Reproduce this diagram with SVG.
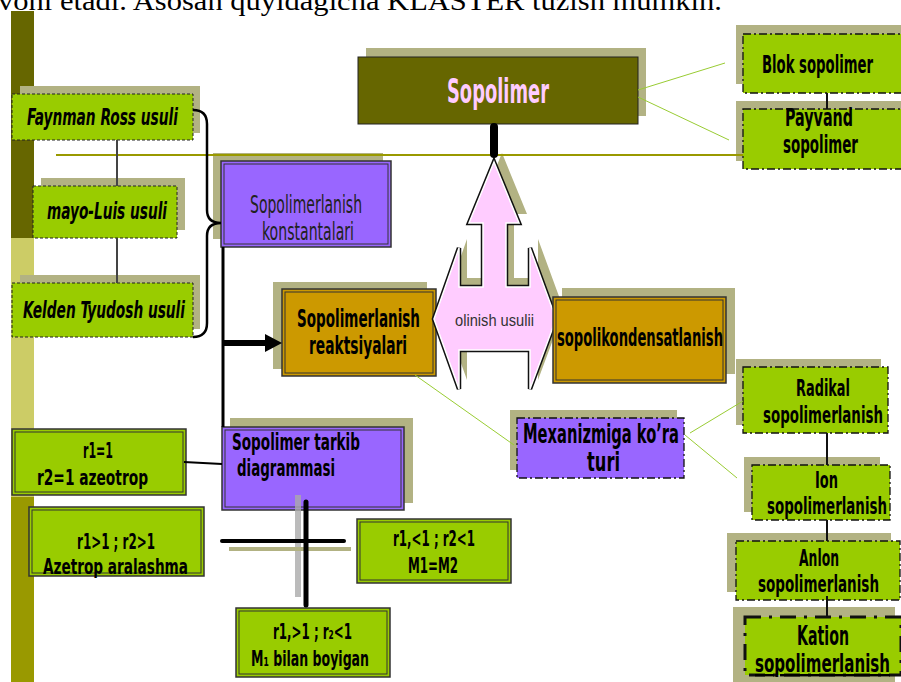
<svg xmlns="http://www.w3.org/2000/svg" width="901" height="682" viewBox="0 0 901 682">
<style>
.t{font-family:"Liberation Sans Narrow","DejaVu Sans Condensed","Liberation Sans",sans-serif;font-weight:bold;fill:#000;}
.it{font-style:italic;}
.rg{font-weight:normal;fill:#222;}
.sh{fill:#b2b283;}
.gr{fill:#99cc00;}
.pu{fill:#9966ff;}
.or{fill:#cc9900;}
.dbl{stroke:#333;stroke-width:1.5;}
.inn{fill:none;stroke:#333;stroke-width:1;}
.dash{stroke:#222;stroke-width:1;stroke-dasharray:3,2;}
.dd{stroke:#111;stroke-width:1.3;stroke-dasharray:8,3,2,3;}
.gl{stroke:#99cc33;stroke-width:1;fill:none;}
</style>
<rect width="901" height="682" fill="#fff"/>
<rect x="11" y="11" width="23" height="228" fill="#666600"/>
<rect x="11" y="238" width="23" height="260" fill="#cccc66"/>
<rect x="11" y="497" width="23" height="185" fill="#999900"/>
<text x="-2" y="10" font-family="Liberation Serif,serif" font-size="28" textLength="724" lengthAdjust="spacingAndGlyphs">voni etadi. Asosan quyidagicha KLASTER tuzish mumkin.</text>

<g id="sopolimer">
<rect class="sh" x="366" y="48" width="280" height="68"/>
<rect x="358" y="57" width="280" height="67" fill="#666600" stroke="#222" stroke-width="1"/>
<text class="t" x="447" y="103" font-size="34" textLength="102" lengthAdjust="spacingAndGlyphs" style="fill:#ffccff">Sopolimer</text>
</g>

<g id="faynman">
<rect class="sh" x="20" y="86" width="180" height="47"/>
<rect class="gr dash" x="12" y="94" width="181" height="46"/>
<text class="t it" x="27" y="125" font-size="23" textLength="151" lengthAdjust="spacingAndGlyphs">Faynman Ross usuli</text>
</g>
<g id="mayo">
<rect class="sh" x="41" y="178" width="144" height="52"/>
<rect class="gr dash" x="33" y="186" width="144" height="52"/>
<text class="t it" x="47" y="219" font-size="23" textLength="120" lengthAdjust="spacingAndGlyphs">mayo-Luis usuli</text>
</g>
<g id="kelden">
<rect class="sh" x="20" y="275" width="180" height="54"/>
<rect class="gr dash" x="12" y="283" width="181" height="54"/>
<text class="t it" x="23" y="318" font-size="23" textLength="162" lengthAdjust="spacingAndGlyphs">Kelden Tyudosh usuli</text>
</g>

<g id="konstantalari">
<rect class="sh" x="213" y="153" width="170" height="86"/>
<rect class="pu dbl" x="221" y="161" width="170" height="86"/>
<rect class="inn" x="224" y="164" width="164" height="80"/>
<text class="t rg" x="250" y="213" font-size="24" textLength="112" lengthAdjust="spacingAndGlyphs">Sopolimerlanish</text>
<text class="t rg" x="262" y="240" font-size="24" textLength="92" lengthAdjust="spacingAndGlyphs">konstantalari</text>
</g>

<g id="reaktsiyalari">
<rect class="sh" x="273" y="282" width="154" height="87"/>
<rect class="or dbl" x="282" y="289" width="154" height="87"/>
<rect class="inn" x="285" y="292" width="148" height="81"/>
<text class="t" x="297" y="327" font-size="25" textLength="123" lengthAdjust="spacingAndGlyphs">Sopolimerlanish</text>
<text class="t" x="309" y="354" font-size="25" textLength="98" lengthAdjust="spacingAndGlyphs">reaktsiyalari</text>
</g>

<g id="olinish">
<polygon class="sh" transform="translate(8,-9)" points="494,162 519,223 506,223 506,287 530,287 530,248 556,319 530,389 530,350 459,350 459,389 434,319 459,248 459,287 483,287 483,223 469,223"/>
<polygon points="494,162 519,223 506,223 506,287 530,287 530,248 556,319 530,389 530,350 459,350 459,389 434,319 459,248 459,287 483,287 483,223 469,223" fill="#ffccff" stroke="#111" stroke-width="4.5" stroke-linejoin="miter"/>
<polygon points="494,162 519,223 506,223 506,287 530,287 530,248 556,319 530,389 530,350 459,350 459,389 434,319 459,248 459,287 483,287 483,223 469,223" fill="#ffccff" stroke="#fff" stroke-width="1.5"/>
<text x="455" y="326" font-family="Liberation Sans,sans-serif" font-size="16" fill="#333" textLength="79" lengthAdjust="spacingAndGlyphs">olinish usulii</text>
</g>

<g id="sopolikondensatlanish">
<rect class="sh" x="562" y="288" width="173" height="86"/>
<rect class="or dbl" x="553" y="297" width="173" height="86"/>
<rect class="inn" x="556" y="300" width="167" height="80"/>
<text class="t" x="557" y="346" font-size="25" textLength="166" lengthAdjust="spacingAndGlyphs">sopolikondensatlanish</text>
</g>

<g id="blok">
<rect class="sh" x="736" y="25" width="170" height="59"/>
<rect class="gr dd" x="743" y="34" width="162" height="59"/>
<text class="t" x="762" y="73" font-size="24" textLength="111" lengthAdjust="spacingAndGlyphs">Blok sopolimer</text>
</g>
<g id="payvand">
<rect class="sh" x="736" y="101" width="170" height="60"/>
<rect class="gr dd" x="743" y="109" width="162" height="60"/>
<text class="t" x="785" y="126" font-size="24" textLength="68" lengthAdjust="spacingAndGlyphs">Payvand</text>
<text class="t" x="783" y="153" font-size="24" textLength="75" lengthAdjust="spacingAndGlyphs">sopolimer</text>
</g>

<g id="mexanizmiga">
<rect class="sh" x="510" y="410" width="167" height="60"/>
<rect class="pu dd" x="517" y="418" width="167" height="60"/>
<text class="t" x="523" y="443" font-size="26" textLength="156" lengthAdjust="spacingAndGlyphs">Mexanizmiga ko’ra</text>
<text class="t" x="587" y="471" font-size="26" textLength="33" lengthAdjust="spacingAndGlyphs">turi</text>
</g>

<g id="radikal">
<rect class="sh" x="736" y="359" width="145" height="66"/>
<rect class="gr dd" x="743" y="367" width="145" height="66"/>
<text class="t" x="796" y="396" font-size="23" textLength="54" lengthAdjust="spacingAndGlyphs">Radikal</text>
<text class="t" x="763" y="423" font-size="23" textLength="120" lengthAdjust="spacingAndGlyphs">sopolimerlanish</text>
</g>
<g id="ion">
<rect class="sh" x="744" y="457" width="136" height="55"/>
<rect class="gr dd" x="752" y="465" width="138" height="55"/>
<text class="t" x="815" y="488" font-size="23" textLength="23" lengthAdjust="spacingAndGlyphs">Ion</text>
<text class="t" x="767" y="514" font-size="23" textLength="120" lengthAdjust="spacingAndGlyphs">sopolimerlanish</text>
</g>
<g id="anlon">
<rect class="sh" x="727" y="533" width="164" height="59"/>
<rect class="gr dd" x="736" y="541" width="164" height="59"/>
<text class="t" x="799" y="566" font-size="23" textLength="40" lengthAdjust="spacingAndGlyphs">Anlon</text>
<text class="t" x="758" y="592" font-size="23" textLength="121" lengthAdjust="spacingAndGlyphs">sopolimerlanish</text>
</g>
<g id="kation">
<rect class="sh" x="733" y="607" width="162" height="75"/>
<rect class="gr" x="745" y="617" width="156" height="58" stroke="#111" stroke-width="3" stroke-dasharray="16,8,3,8"/>
<text class="t" x="797" y="645" font-size="26" textLength="52" lengthAdjust="spacingAndGlyphs">Kation</text>
<text class="t" x="755" y="672" font-size="24" textLength="135" lengthAdjust="spacingAndGlyphs" text-decoration="underline">sopolimerlanish</text>
</g>

<g id="tarkib">
<rect class="sh" x="230" y="418" width="183" height="85"/>
<rect class="pu dbl" x="222" y="427" width="182" height="83"/>
<rect class="inn" x="225" y="430" width="176" height="77"/>
<text class="t" x="232" y="450" font-size="23" textLength="128" lengthAdjust="spacingAndGlyphs">Sopolimer tarkib</text>
<text class="t" x="237" y="476" font-size="23" textLength="98" lengthAdjust="spacingAndGlyphs">diagrammasi</text>
</g>

<g id="azeotrop">
<rect class="gr dbl" x="12" y="429" width="174" height="66"/>
<rect class="inn" x="15" y="432" width="168" height="60"/>
<text class="t" x="83" y="458" font-size="21" textLength="30" lengthAdjust="spacingAndGlyphs">r1=1</text>
<text class="t" x="37" y="485" font-size="21" textLength="111" lengthAdjust="spacingAndGlyphs">r2=1  azeotrop</text>
</g>
<g id="aralashma">
<rect class="gr dbl" x="29" y="507" width="175" height="69"/>
<rect class="inn" x="32" y="510" width="169" height="63"/>
<text class="t" x="77" y="549" font-size="21" textLength="78" lengthAdjust="spacingAndGlyphs">r1&gt;1 ;  r2&gt;1</text>
<text class="t" x="43" y="574" font-size="21" textLength="145" lengthAdjust="spacingAndGlyphs">Azetrop aralashma</text>
</g>
<g id="m1m2">
<rect class="gr dbl" x="357" y="519" width="154" height="64"/>
<rect class="inn" x="360" y="522" width="148" height="58"/>
<text class="t" x="393" y="546" font-size="21" textLength="82" lengthAdjust="spacingAndGlyphs">r1,&lt;1 ;  r2&lt;1</text>
<text class="t" x="408" y="573" font-size="21" textLength="50" lengthAdjust="spacingAndGlyphs">M1=M2</text>
</g>
<g id="boyigan">
<rect class="gr dbl" x="236" y="608" width="154" height="69"/>
<rect class="inn" x="239" y="611" width="148" height="63"/>
<text class="t" x="273" y="639" font-size="21" textLength="79" lengthAdjust="spacingAndGlyphs">r1,&gt;1 ;  r₂&lt;1</text>
<text class="t" x="251" y="666" font-size="21" textLength="118" lengthAdjust="spacingAndGlyphs">M₁ bilan boyigan</text>
</g>

<g id="connectors" fill="none">
<line x1="56" y1="155" x2="743" y2="155" stroke="#999900" stroke-width="2"/>
<line x1="494" y1="127" x2="494" y2="154" stroke="#000" stroke-width="8" stroke-linecap="round"/>
<line class="gl" x1="638" y1="90" x2="725" y2="63"/>
<line class="gl" x1="638" y1="97" x2="729" y2="140"/>
<line x1="827" y1="93" x2="827" y2="109" stroke="#111" stroke-width="2"/>
<line x1="117" y1="140" x2="117" y2="186" stroke="#444" stroke-width="2"/>
<line x1="117" y1="238" x2="117" y2="283" stroke="#444" stroke-width="2"/>
<path d="M193,110 Q207,110 207,124 L207,210 Q207,223 221,223 Q207,223 207,236 L207,323 Q207,337 193,337" stroke="#000" stroke-width="2.5"/>
<line x1="223" y1="247" x2="223" y2="427" stroke="#000" stroke-width="3"/>
<line x1="223" y1="343" x2="268" y2="343" stroke="#000" stroke-width="6"/>
<polygon points="265,334 282,343 265,352" fill="#000"/>
<line class="gl" x1="415" y1="375" x2="514" y2="445"/>
<line class="gl" x1="690" y1="433" x2="743" y2="401"/>
<line class="gl" x1="685" y1="435" x2="737" y2="478"/>
<line x1="827" y1="433" x2="827" y2="465" stroke="#111" stroke-width="2"/>
<line x1="827" y1="520" x2="827" y2="541" stroke="#111" stroke-width="2"/>
<line x1="827" y1="596" x2="827" y2="617" stroke="#111" stroke-width="2"/>
<line x1="184" y1="462" x2="222" y2="464" stroke="#000" stroke-width="2"/>
<line x1="298" y1="495" x2="298" y2="597" stroke="#aaa" stroke-width="6" stroke-opacity="0.8"/>
<line x1="229" y1="549" x2="351" y2="549" stroke="#b2b283" stroke-width="4"/>
<line x1="222" y1="541" x2="344" y2="541" stroke="#000" stroke-width="4" stroke-linecap="round"/>
<line x1="306" y1="502" x2="306" y2="605" stroke="#000" stroke-width="5" stroke-linecap="round"/>
</g>
</svg>
